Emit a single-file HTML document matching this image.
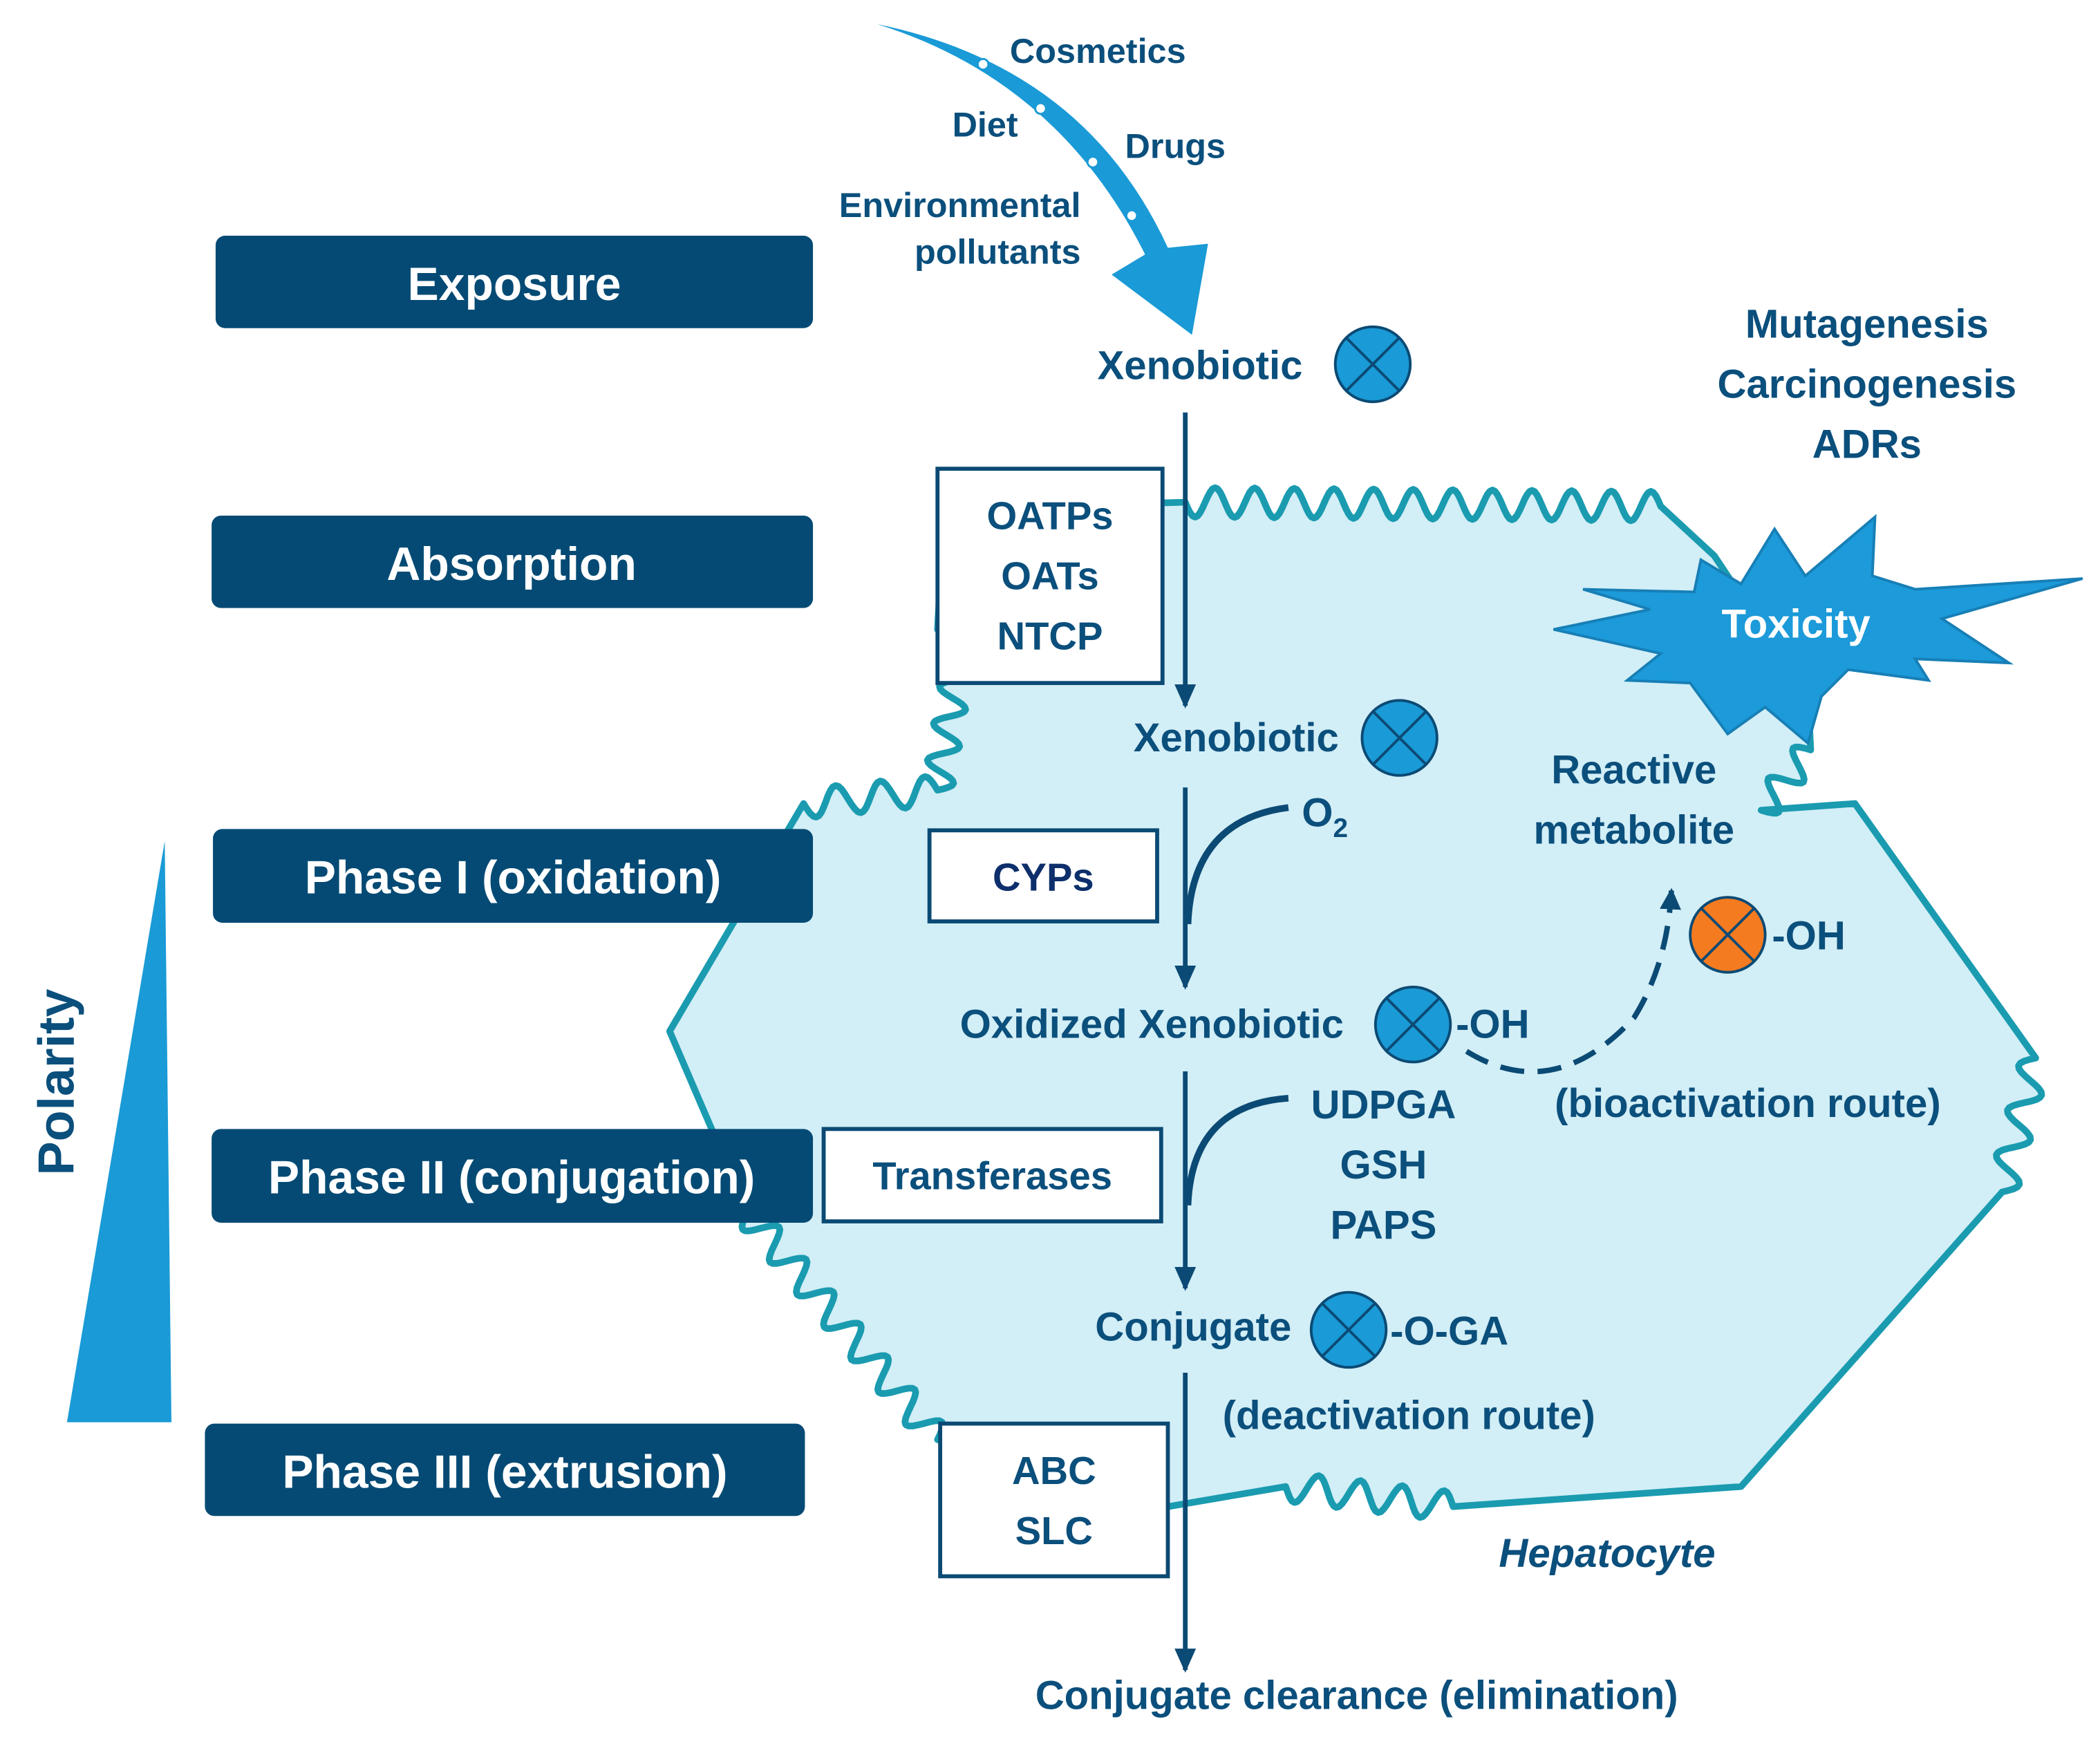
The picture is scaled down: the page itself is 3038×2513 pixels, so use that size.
<!DOCTYPE html>
<html><head><meta charset="utf-8"><style>
html,body{margin:0;padding:0;background:#fff}
svg{display:block}
text{font-family:"Liberation Sans","DejaVu Sans",sans-serif;font-weight:bold}
</style></head><body>
<svg id="s" width="3038" height="2513" viewBox="0 0 1568 1297" xmlns="http://www.w3.org/2000/svg">
<defs>
<marker id="ah" markerWidth="18" markerHeight="16" refX="16" refY="8" orient="auto" markerUnits="userSpaceOnUse" viewBox="0 0 18 16">
<path d="M0,0 L18,8 L0,16 z" fill="#0b4a74"/></marker>
<marker id="ah2" markerWidth="16" markerHeight="16" refX="14" refY="8" orient="auto" viewBox="0 0 16 16" markerUnits="userSpaceOnUse">
<path d="M0,0 L16,8 L0,16 z" fill="#0b4a74"/></marker>
</defs>
<path id="cell" fill="#d2eef6" stroke="#1a9bb0" stroke-width="5" stroke-linejoin="round"/>

<g fill="#044a74">
<rect x="161" y="176" width="446" height="69" rx="7"/>
<rect x="158" y="385" width="449" height="69" rx="7"/>
<rect x="159" y="619" width="448" height="70" rx="7"/>
<rect x="158" y="843" width="449" height="70" rx="7"/>
<rect x="153" y="1063" width="448" height="69" rx="7"/>
</g>
<g fill="#fff" font-size="35" text-anchor="middle">
<text x="384" y="224">Exposure</text>
<text x="382" y="433">Absorption</text>
<text x="383" y="667">Phase I (oxidation)</text>
<text x="382" y="891">Phase II (conjugation)</text>
<text x="377" y="1111">Phase III (extrusion)</text>
</g>
<polygon points="123,628 128,1062 50,1062" fill="#1a9ad6"/>
<text x="0" y="0" transform="translate(55,808) rotate(-90)" fill="#0b4f7c" font-size="38" text-anchor="middle">Polarity</text>

<path d="M655,18 Q790,60 855,190 L830,205 L890,250 L902,182 L872,185 Q810,50 655,18 z" fill="#1a9ad6"/>
<g fill="#fff" stroke="#1a9ad6" stroke-width="1.5">
<circle cx="734" cy="48" r="4"/><circle cx="777" cy="81" r="4"/><circle cx="816" cy="121" r="4"/><circle cx="845" cy="161" r="4"/>
</g>
<g fill="#0b4f7c" font-size="26">
<text x="754" y="47" font-weight="normal">Cosmetics</text>
<text x="711" y="102" font-weight="normal">Diet</text>
<text x="840" y="118">Drugs</text>
<text x="807" y="162" text-anchor="end">Environmental</text>
<text x="807" y="197" text-anchor="end">pollutants</text>
</g>

<polygon points="1270,418 1300,436 1325,395 1348,430 1400,386 1398,430 1430,440 1555,432 1450,462 1500,495 1430,492 1440,508 1380,500 1360,520 1350,555 1318,528 1290,548 1262,510 1215,508 1240,488 1160,470 1232,455 1182,440 1265,442" fill="#1c9ad9" stroke="#177fb6" stroke-width="2"/>
<text x="1341" y="476" fill="#fff" font-size="30" text-anchor="middle">Toxicity</text>

<g fill="#fff" stroke="#0b4a74" stroke-width="3">
<rect x="700" y="350" width="168" height="160"/>
<rect x="694" y="620" width="170" height="68"/>
<rect x="615" y="843" width="252" height="69"/>
<rect x="702" y="1063" width="170" height="114"/>
</g>
<g fill="#0b4f7c" font-size="29" text-anchor="middle">
<text x="784" y="395">OATPs</text><text x="784" y="440">OATs</text><text x="784" y="485">NTCP</text>
<text x="779" y="665" fill="#0d2f6b">CYPs</text>
<text x="741" y="888">Transferases</text>
<text x="787" y="1108">ABC</text><text x="787" y="1153">SLC</text>
</g>

<g stroke="#0b4a74" stroke-width="3.5" fill="none">
<line x1="885" y1="308" x2="885" y2="527" marker-end="url(#ah)"/>
<line x1="885" y1="588" x2="885" y2="737" marker-end="url(#ah)"/>
<line x1="885" y1="800" x2="885" y2="962" marker-end="url(#ah)"/>
<line x1="885" y1="1025" x2="885" y2="1247" marker-end="url(#ah)"/>
<path d="M887,690 Q890,612 962,603" stroke-width="5"/>
<path d="M887,900 Q890,825 962,820" stroke-width="5"/>
<path d="M1095,785 Q1160,825 1220,760 Q1245,720 1248,665" stroke-width="4" stroke-dasharray="18,10" marker-end="url(#ah2)"/>
</g>

<g stroke="#0b4a74" stroke-width="2">
<g fill="#1a9ad6">
<circle cx="1025" cy="272" r="28"/><circle cx="1045" cy="551" r="28"/><circle cx="1055" cy="765" r="28"/><circle cx="1007" cy="993" r="28"/>
</g>
<circle cx="1290" cy="698" r="28" fill="#f47b20"/>
<path d="M1005,252 L1045,292 M1045,252 L1005,292 M1025,531 L1065,571 M1065,531 L1025,571 M1035,745 L1075,785 M1075,745 L1035,785 M987,973 L1027,1013 M1027,973 L987,1013 M1270,678 L1310,718 M1310,678 L1270,718"/>
</g>

<g fill="#0b4f7c" font-size="30">
<text x="896" y="283" text-anchor="middle">Xenobiotic</text>
<text x="923" y="561" text-anchor="middle">Xenobiotic</text>
<text x="860" y="775" text-anchor="middle">Oxidized Xenobiotic</text>
<text x="1087" y="775">-OH</text>
<text x="1323" y="709">-OH</text>
<text x="891" y="1001" text-anchor="middle">Conjugate</text>
<text x="1038" y="1004">-O-GA</text>
<text x="972" y="617">O<tspan font-size="20" dy="8">2</tspan></text>
<text x="1033" y="835" text-anchor="middle">UDPGA</text>
<text x="1033" y="880" text-anchor="middle">GSH</text>
<text x="1033" y="925" text-anchor="middle">PAPS</text>
<text x="1305" y="834" text-anchor="middle">(bioactivation route)</text>
<text x="1052" y="1067" text-anchor="middle">(deactivation route)</text>
<text x="1220" y="585" text-anchor="middle">Reactive</text>
<text x="1220" y="630" text-anchor="middle">metabolite</text>
<text x="1394" y="252" text-anchor="middle">Mutagenesis</text>
<text x="1394" y="297" text-anchor="middle">Carcinogenesis</text>
<text x="1394" y="342" text-anchor="middle">ADRs</text>
<text x="1200" y="1170" text-anchor="middle" font-style="italic">Hepatocyte</text>
<text x="1013" y="1276" text-anchor="middle">Conjugate clearance (elimination)</text>
</g>
</svg>
<script>
var P=[[885,375,1],[1240,378,0],[1280,415,0],[1350,520,0],[1352,560,1],[1315,605,0],[1385,600,0],[1520,790,1],[1495,890,0],[1300,1110,0],[1085,1125,1],[960,1110,0],[872,1125,0],[700,1075,1],[558,905,0],[500,770,0],[600,600,1],[700,590,1],[718,480,0],[700,470,0],[705,380,0]];
var d="M"+P[0][0]+","+P[0][1];
for(var i=0;i<P.length;i++){var a=P[i],b=P[(i+1)%P.length];
 if(a[2]){var dx=b[0]-a[0],dy=b[1]-a[1],L=Math.hypot(dx,dy),nx=-dy/L,ny=dx/L,n=Math.max(1,Math.round(L/30));
  for(var k=1;k<=n*16;k++){var t=k/(n*16),s=Math.sin(t*n*2*Math.PI)*11;d+=" L"+(a[0]+dx*t+nx*s).toFixed(1)+","+(a[1]+dy*t+ny*s).toFixed(1);}}
 else d+=" L"+b[0]+","+b[1];}
document.getElementById("cell").setAttribute("d",d+"z");
</script>
</body></html>
